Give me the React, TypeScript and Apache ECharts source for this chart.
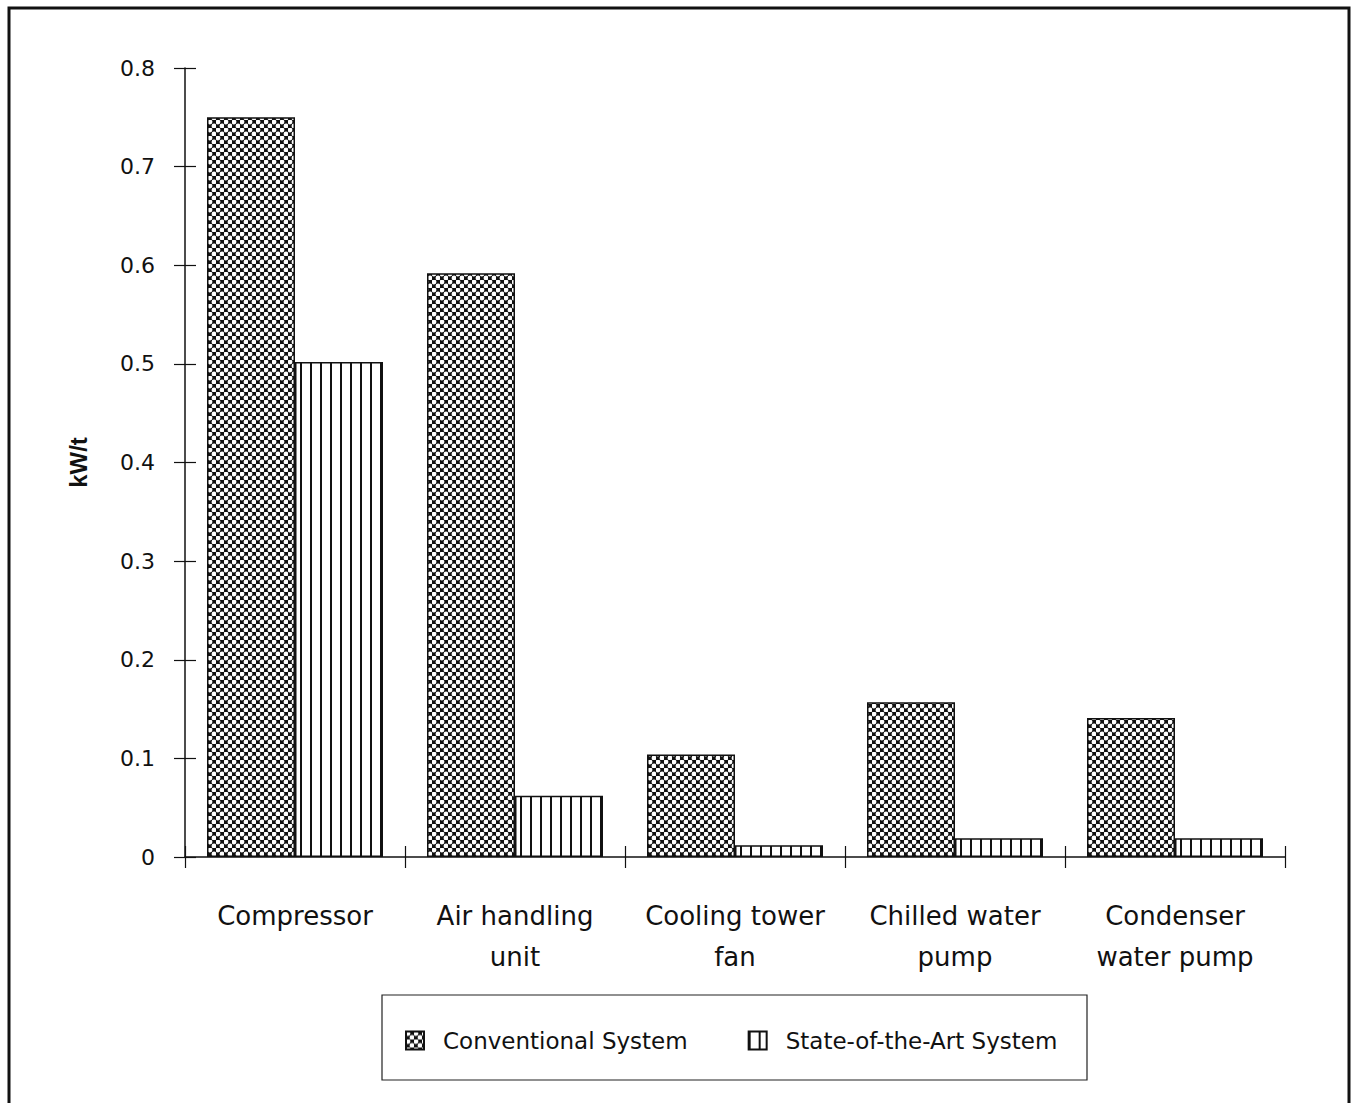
import React, { useEffect, useRef } from "react";
import * as echarts from "echarts";

const categories = [
  "Compressor",
  "Air handling\nunit",
  "Cooling tower\nfan",
  "Chilled water\npump",
  "Condenser\nwater pump",
];
const conventional = [0.75, 0.592, 0.104, 0.157, 0.141];
const stateOfTheArt = [0.502, 0.062, 0.012, 0.019, 0.019];
const seriesNames = ["Conventional System", "State-of-the-Art System"];
const yTicks = { min: 0, max: 0.8, interval: 0.1 };

function checkerPattern() {
  const c = document.createElement("canvas");
  c.width = 8;
  c.height = 8;
  const g = c.getContext("2d")!;
  g.fillStyle = "#111";
  g.fillRect(0, 0, 8, 8);
  g.fillStyle = "#fff";
  g.beginPath();
  g.arc(2, 2, 2.4, 0, Math.PI * 2);
  g.fill();
  g.beginPath();
  g.arc(6, 6, 2.4, 0, Math.PI * 2);
  g.fill();
  return { image: c.toDataURL(), repeat: "repeat", imageWidth: 8, imageHeight: 8 };
}

function stripePattern() {
  const c = document.createElement("canvas");
  c.width = 10;
  c.height = 10;
  const g = c.getContext("2d")!;
  g.fillStyle = "#fff";
  g.fillRect(0, 0, 10, 10);
  g.fillStyle = "#111";
  g.fillRect(0, 0, 2, 10);
  return { image: c.toDataURL(), repeat: "repeat", imageWidth: 10, imageHeight: 10 };
}

export default function App() {
  const ref = useRef<HTMLDivElement>(null);
  useEffect(() => {
    document.body.style.margin = "0";
    const chart = echarts.init(ref.current!, null, { renderer: "svg" });
    const font = "DejaVu Sans";
    const checker = checkerPattern();
    const stripes = stripePattern();
    chart.setOption({
      animation: false,
      backgroundColor: "#fff",
      textStyle: { fontFamily: font, color: "#111" },
      grid: { left: 185, right: 69, top: 68, bottom: 246, containLabel: false },
      legend: {
        left: 400,
        top: 1024,
        itemWidth: 18,
        itemHeight: 18,
        itemGap: 60,
        icon: "rect",
        textStyle: { fontFamily: font, fontSize: 23, color: "#111", padding: [0, 0, 0, 14] },
        data: seriesNames,
      },
      graphic: [
        {
          type: "rect",
          shape: { x: 9, y: 8, width: 1340, height: 1110 },
          style: { fill: "none", stroke: "#111", lineWidth: 3 },
          silent: true,
        },
        {
          type: "rect",
          shape: { x: 382, y: 995, width: 705, height: 85 },
          style: { fill: "none", stroke: "#222", lineWidth: 1.2 },
          silent: true,
        },
      ],
      xAxis: [
        {
          type: "category",
          data: categories,
          position: "bottom",
          axisLine: { lineStyle: { color: "#111", width: 1.5 } },
          axisTick: { show: true, length: 11, lineStyle: { color: "#111", width: 1.2 } },
          axisLabel: {
            margin: 38,
            fontFamily: font,
            fontSize: 26,
            lineHeight: 41,
            color: "#111",
            interval: 0,
          },
        },
        {
          type: "category",
          data: categories,
          position: "bottom",
          gridIndex: 0,
          axisLine: { show: false },
          axisTick: { show: true, inside: true, length: 11, lineStyle: { color: "#111", width: 1.2 } },
          axisLabel: { show: false },
        },
      ],
      yAxis: [
        {
          type: "value",
          min: yTicks.min,
          max: yTicks.max,
          interval: yTicks.interval,
          name: "kW/t",
          nameLocation: "middle",
          nameGap: 95,
          nameRotate: 90,
          nameTextStyle: { fontFamily: "Liberation Sans", fontWeight: "bold", fontSize: 24, color: "#111" },
          splitLine: { show: false },
          axisLine: { show: true, lineStyle: { color: "#111", width: 1.5 } },
          axisTick: { show: true, length: 11, lineStyle: { color: "#111", width: 1.2 } },
          axisLabel: { margin: 30, fontFamily: font, fontSize: 22, color: "#111" },
        },
        {
          type: "value",
          position: "left",
          offset: 0,
          min: yTicks.min,
          max: yTicks.max,
          interval: yTicks.interval,
          splitLine: { show: false },
          axisLine: { show: false },
          axisTick: { show: true, inside: true, length: 11, lineStyle: { color: "#111", width: 1.2 } },
          axisLabel: { show: false },
        },
      ],
      series: [
        {
          name: seriesNames[0],
          type: "bar",
          data: conventional,
          barGap: "0%",
          barCategoryGap: "20%",
          itemStyle: { color: checker, borderColor: "#111", borderWidth: 1.5 },
        },
        {
          name: seriesNames[1],
          type: "bar",
          data: stateOfTheArt,
          barGap: "0%",
          barCategoryGap: "20%",
          itemStyle: { color: stripes, borderColor: "#111", borderWidth: 1.5 },
        },
      ],
    });
    return () => chart.dispose();
  }, []);
  return (
    <div
      ref={ref}
      style={{ position: "absolute", left: 0, top: 0, width: 1354, height: 1103 }}
    />
  );
}
